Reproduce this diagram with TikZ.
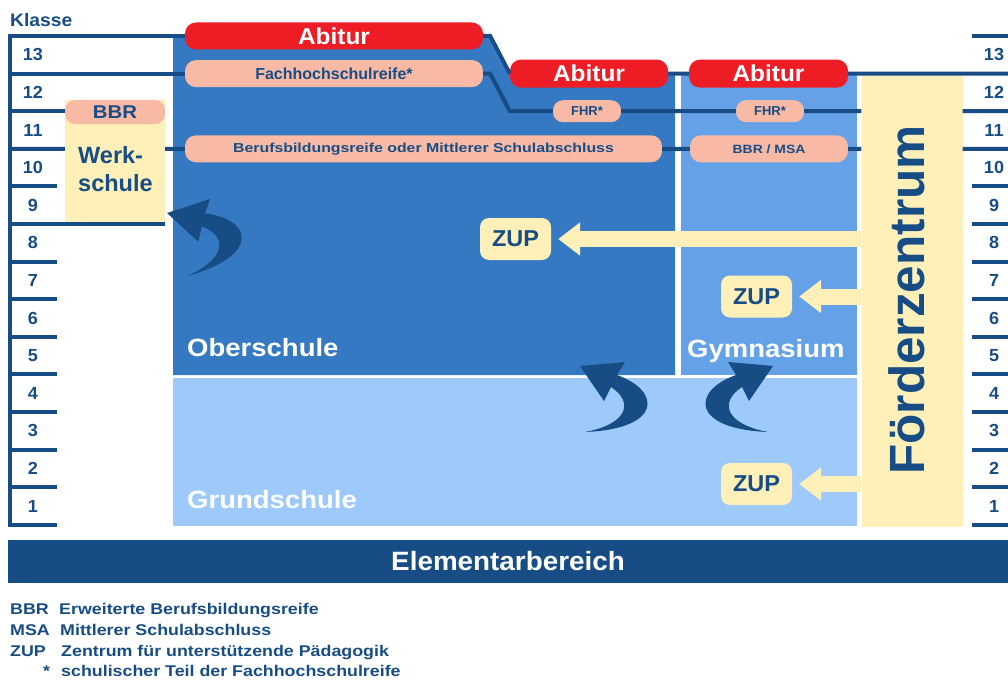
\documentclass[tikz,border=0pt]{standalone}
\usepackage{fontspec}
\setmainfont{Liberation Sans}
\usepackage{tikz}
\usetikzlibrary{arrows.meta,positioning}
\definecolor{SchoolNavy}{HTML}{174D84}
\definecolor{SchoolBlue}{HTML}{3479C1}
\definecolor{SchoolSky}{HTML}{65A1E6}
\definecolor{SchoolIce}{HTML}{9DC9FB}
\definecolor{SchoolCream}{HTML}{FEF0B8}
\definecolor{SchoolRed}{HTML}{EE1C25}
\definecolor{SchoolPink}{HTML}{F8B9A5}
\newcommand{\fsz}[2]{\fontsize{#1}{#1}\selectfont\bfseries\addfontfeature{FakeStretch=#2}}

\begin{document}
\begin{tikzpicture}[x=1pt,y=-1pt,
		rail/.style={draw=SchoolNavy,line width=4pt},
		abi/.style={fill=SchoolRed,text=white,rounded corners=11pt,inner sep=0,minimum height=27pt,font=\fsz{23}{1.06}},
		grade/.style={fill=SchoolPink,text=SchoolNavy,rounded corners=11pt,inner sep=0,minimum height=27pt},
		zup/.style={fill=SchoolCream,text=SchoolNavy,rounded corners=9pt,inner sep=0,minimum width=71pt,minimum height=42pt,font=\fsz{23}{1.02}},
		feed/.style={draw=SchoolCream,line width=16pt,-{Triangle[width=32pt,length=22pt]},shorten >=7pt},
		num/.style={text=SchoolNavy,inner sep=0,font=\fsz{17.5}{1.03}},
		school/.style={text=white,anchor=base west,inner sep=0,font=\fsz{25}{1.1}},
		legend/.style={text=SchoolNavy,anchor=base west,inner sep=0,font=\fsz{15.5}{1.15}},
		turn/.pic={\fill[SchoolNavy] (0,0) -- (45,-4) -- (37,9) .. controls (82,25) and (82,63) .. (5,66) .. controls (48,58) and (54,36) .. (31,21) -- (24,35) -- cycle;}
	]
	\useasboundingbox (0,0) rectangle (1008,682);
	\fill[SchoolBlue] (173,36) -- (490,36) -- (508,73.6) -- (675,73.6) -- (675,375) -- (173,375) -- cycle;
	\fill[SchoolSky] (681,75) rectangle (857,375);
	\fill[SchoolIce] (173,377.5) rectangle (857,526);
	\node[fill=SchoolCream,inner sep=0,minimum width=101pt,minimum height=451pt] (fz) at (912,301) {};
	\node[fill=SchoolCream,inner sep=0,minimum width=100pt,minimum height=124pt] (werk) at (115,162) {};
	\node[fill=SchoolNavy,text=white,inner sep=0,minimum width=1000pt,minimum height=43pt,font=\fsz{26.5}{1.05}] (elem) at (508,561) {Elementarbereich};

	\node[abi,minimum width=298pt] (abi1) at (334,36) {Abitur};
	\node[abi,minimum width=158pt,minimum height=28pt] (abi2) at (589,73.6) {Abitur};
	\node[abi,minimum width=159pt,minimum height=28pt] (abi3) at (768.5,73.6) {Abitur};
	\node[grade,minimum width=298pt,font=\fsz{16}{1}] (fhr) at (334,73.6) {Fachhochschulreife*};
	\node[grade,minimum width=68pt,minimum height=22pt,rounded corners=10pt,font=\fsz{13}{1}] (fhrs1) at (587,111.2) {FHR*};
	\node[grade,minimum width=68pt,minimum height=22pt,rounded corners=10pt,font=\fsz{13}{1}] (fhrs2) at (770,111.2) {FHR*};
	\node[grade,minimum width=477pt,font=\fsz{13}{1.22}] (bbrl) at (423.5,148.8) {Berufsbildungsreife oder Mittlerer Schulabschluss};
	\node[grade,minimum width=158pt,font=\fsz{12}{1.16}] (bbrm) at (769,148.8) {BBR / MSA};
	\node[grade,anchor=north,minimum width=100pt,minimum height=24pt,rounded corners=10pt,font=\fsz{18.5}{1.1}] (werkcap) at (werk.north) {BBR};
	\node[text=SchoolNavy,align=left,anchor=west,inner sep=0,font=\fontsize{23.5}{28}\selectfont\bfseries] (werktext) at (78,169) {Werk-\\schule};

	\foreach \k in {0,...,13} {
		\coordinate (L\k) at (10,{36+37.6*\k});
		\coordinate (R\k) at (1008,{36+37.6*\k});
	}
	\draw[rail] (10,34) -- (10,527);
	\foreach \k in {4,6,7,...,13}
	\draw[rail] (L\k) -- ++(47,0);
	\foreach \k in {0,4,5,...,13}
	\draw[rail] (R\k) -- ++(-36,0);
	\draw[rail] (L0) -- (abi1.west);
	\draw[rail] (L1) -- (fhr.west);
	\draw[rail] (L2) -- (L2 -| werk.west);
	\draw[rail] (L3) -- (L3 -| werk.west) (L3 -| werk.east) -- (bbrl.west);
	\draw[rail] (L5) -- (L5 -| werk.east);
	\draw[rail] (abi1.east) -- ++(7,0) -- (abi2.west) (abi2.east) -- (abi3.west) (abi3.east) -- (R1);
	\draw[rail] (fhr.east) -- ++(7,0) -- (fhrs1.west -| abi2.west) -- (fhrs1.west) (fhrs1.east) -- (fhrs2.west);
	\draw[rail] (fhrs2.east) -- (fhrs2 -| fz.west) (fhrs2 -| fz.east) -- (R2);
	\draw[rail] (bbrl.east) -- (bbrm.west) (bbrm.east) -- (bbrm -| fz.west) (bbrm -| fz.east) -- (R3);

	\foreach \n in {1,...,13} {
		\node[num] (lnum\n) at (33,{54.8+37.6*(13-\n)}) {\n};
		\node[num] (rnum\n) at (994,{54.8+37.6*(13-\n)}) {\n};
	}
	\node[text=SchoolNavy,anchor=base west,inner sep=0,font=\fsz{18}{1.07}] (klasse) at (10,27) {Klasse};

	\node[school] (ober) at (187,356) {Oberschule};
	\node[school] (gym) at (687,357) {Gymnasium};
	\node[school] (grund) at (187,508) {Grundschule};
	\node[text=SchoolNavy,rotate=90,inner sep=0,font=\fsz{49.5}{1}] (fztext) at (907,300) {Förderzentrum};

	\node[zup] (zup1) at (515.5,239) {ZUP};
	\node[zup] (zup2) at (756.5,296.5) {ZUP};
	\node[zup] (zup3) at (756.5,484) {ZUP};
	\draw[feed] (fz.west |- zup1) -- (zup1);
	\draw[feed] (fz.west |- zup2) -- (zup2);
	\draw[feed] (fz.west |- zup3) -- (zup3);

	\pic[rotate=13] at (167,213) {turn};
	\pic at (580,366) {turn};
	\pic[xscale=-1] at (773,366) {turn};

	\node[legend] (legbbr) at (10,614) {BBR};
	\node[legend] (legbbrtext) at (59,614) {Erweiterte Berufsbildungsreife};
	\node[legend] (legmsa) at (10,635) {MSA};
	\node[legend] (legmsatext) at (60,635) {Mittlerer Schulabschluss};
	\node[legend] (legzup) at (10,656) {ZUP};
	\node[legend] (legzuptext) at (61,656) {Zentrum für unterstützende Pädagogik};
	\node[legend] (legstar) at (43,676) {*};
	\node[legend] (legstartext) at (61,676) {schulischer Teil der Fachhochschulreife};
\end{tikzpicture}
\end{document}
